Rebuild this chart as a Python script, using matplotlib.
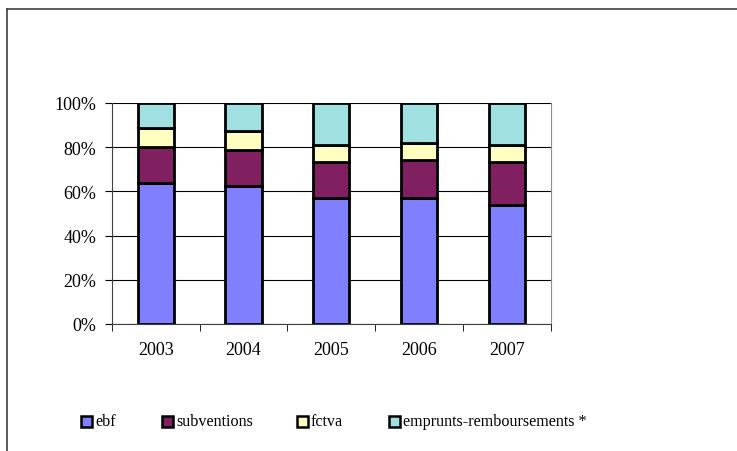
import matplotlib.pyplot as plt
from matplotlib.patches import Rectangle
from matplotlib.lines import Line2D
import numpy as np

plt.rcParams['font.family'] = ['Liberation Serif', 'DejaVu Serif']

years = ['2003', '2004', '2005', '2006', '2007']
# shares in % (stacked to 100)
ebf = [64.0, 62.4, 56.8, 56.8, 54.0]
subventions = [16.3, 16.4, 16.4, 17.4, 19.5]
fctva = [8.3, 8.3, 7.9, 7.6, 7.6]
emprunts = [11.4, 12.9, 18.9, 18.2, 18.9]

series = [ebf, subventions, fctva, emprunts]
names = ['ebf', 'subventions', 'fctva', 'emprunts-remboursements *']
colors = ['#8080ff', '#802060', '#ffffc0', '#a0e0e0']

fig = plt.figure(figsize=(7.37, 4.52), dpi=100)
ax = fig.add_axes([0.1516, 0.281, 0.596, 0.489])

x = np.arange(len(years))
bottom = np.zeros(len(years))
for vals, c in zip(series, colors):
    ax.bar(x, vals, 0.41, bottom=bottom, color=c, edgecolor='black', linewidth=2, zorder=3)
    bottom += np.array(vals)

ax.set_xlim(-0.5, len(years) - 0.5)
ax.set_ylim(0, 100)
ax.set_yticks(range(0, 101, 20))
ax.set_yticklabels([f'{v}%' for v in range(0, 101, 20)], fontsize=13)
ax.set_xticks(x)
ax.set_xticklabels(years, fontsize=13)
ax.tick_params(axis='x', length=0, pad=12)
ax.set_xticks(np.arange(-0.5, len(years)), minor=True)
ax.tick_params(axis='x', which='minor', length=5, direction='out', color='black')
ax.tick_params(axis='y', length=5, direction='out', color='black', pad=6)
ax.yaxis.grid(True, color='black', linewidth=0.8, zorder=0)
ax.spines['top'].set_visible(False)
ax.spines['right'].set_color('#909090')
ax.spines['left'].set_color('#404040')
ax.spines['bottom'].set_color('#404040')

# outer frame
fig.add_artist(Line2D([7 / 737, 1.0], [1 - 10 / 452, 1 - 10 / 452], color='#404040', lw=1.2))
fig.add_artist(Line2D([7 / 737, 7 / 737], [0, 1 - 10 / 452], color='#404040', lw=1.2))

# legend
leg_x = [81, 162, 297, 389]
ly = 1 - 422 / 452
for lx, c, n in zip(leg_x, colors, names):
    fig.add_artist(Rectangle((lx / 737, ly - 5.5 / 452), 11 / 737, 11 / 452, facecolor=c,
                             edgecolor='black', lw=1.8, transform=fig.transFigure))
    fig.text((lx + 14) / 737, ly, n, fontsize=11.6, va='center', ha='left')

fig.savefig('out.png', dpi=100)
